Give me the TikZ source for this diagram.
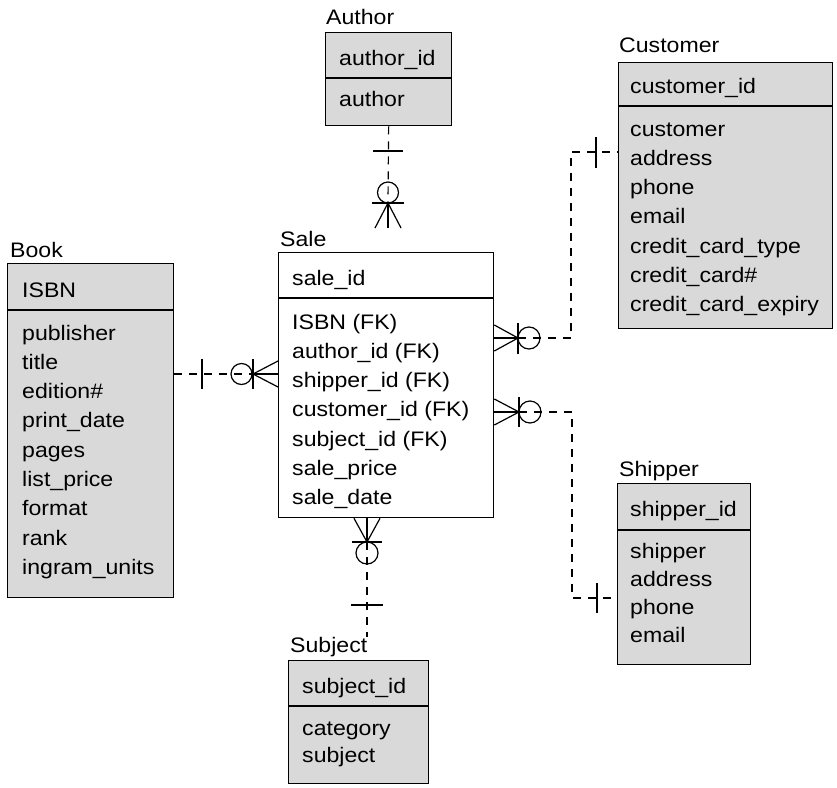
\documentclass[tikz,border=0pt]{standalone}
\usepackage{fontspec}
\setmainfont{Liberation Sans}[FakeStretch=1.1]
\definecolor{boxgray}{RGB}{217,217,217}
\tikzset{
  entity/.style={draw, line width=1.3pt, fill=boxgray, anchor=north west, inner sep=0pt},
  salebox/.style={entity, fill=white},
  divline/.style={line width=1.3pt},
  txt/.style={anchor=base west, inner sep=0pt, font=\fontsize{21}{25}\selectfont},
  dsh/.style={line width=1.2pt, dash pattern=on 8pt off 7pt},
  sym/.style={line width=1.2pt},
}
\begin{document}
\begin{tikzpicture}[x=1pt,y=-1pt]
\useasboundingbox (0,0) rectangle (837,787);

% ---------- entity boxes ----------
\node[entity, minimum width=126pt, minimum height=93pt] (author) at (325,32) {};
\draw[divline] (author.west |- 0,78) -- (author.east |- 0,78);
\node[entity, minimum width=214pt, minimum height=266pt] (customer) at (618,62) {};
\draw[divline] (customer.west |- 0,106) -- (customer.east |- 0,106);
\node[entity, minimum width=166pt, minimum height=334pt] (book) at (7,263) {};
\draw[divline] (book.west |- 0,310) -- (book.east |- 0,310);
\node[salebox, minimum width=215pt, minimum height=265pt] (sale) at (278,252) {};
\draw[divline] (sale.west |- 0,298) -- (sale.east |- 0,298);
\node[entity, minimum width=133pt, minimum height=181pt] (shipper) at (617,483) {};
\draw[divline] (shipper.west |- 0,530) -- (shipper.east |- 0,530);
\node[entity, minimum width=140pt, minimum height=123pt] (subject) at (288,660) {};
\draw[divline] (subject.west |- 0,706) -- (subject.east |- 0,706);

% ---------- titles ----------
\node[txt] (lauthor) at (326,24) {Author};
\node[txt] (lcustomer) at (619,52) {Customer};
\node[txt] (lbook) at (10,257) {Book};
\node[txt] (lsale) at (280,246) {Sale};
\node[txt] (lshipper) at (619,476) {Shipper};
\node[txt] (lsubject) at (290,652) {Subject};

% ---------- keys ----------
\node[txt] (kauthor) at (339,65) {author\_id};
\node[txt] (kcustomer) at (630,93) {customer\_id};
\node[txt] (kbook) at (22,297) {ISBN};
\node[txt] (ksale) at (292,285) {sale\_id};
\node[txt] (kshipper) at (630,516) {shipper\_id};
\node[txt] (ksubject) at (302,693) {subject\_id};

% ---------- attributes ----------
\node[txt] (aauthor1) at (339,106) {author};
\foreach \t [count=\i] in {customer, address, phone, email, credit\_card\_type, credit\_card\#, credit\_card\_expiry}
  \node[txt] (acust\i) at (630,{136+29.3*(\i-1)}) {\t};
\foreach \t [count=\i] in {publisher, title, edition\#, print\_date, pages, list\_price, format, rank, ingram\_units}
  \node[txt] (abook\i) at (22,{340+29.3*(\i-1)}) {\t};
\foreach \t [count=\i] in {ISBN (FK), author\_id (FK), shipper\_id (FK), customer\_id (FK), subject\_id (FK), sale\_price, sale\_date}
  \node[txt] (asale\i) at (292,{329+29.3*(\i-1)}) {\t};
\foreach \t [count=\i] in {shipper, address, phone, email}
  \node[txt] (aship\i) at (630,{558+28.3*(\i-1)}) {\t};
\foreach \t [count=\i] in {category, subject}
  \node[txt] (asubj\i) at (302,{735+27*(\i-1)}) {\t};

% ---------- Author -- Sale ----------
\coordinate (aroot) at (388,203);
\draw[dsh] (author.south) -- (aroot);
\draw[sym] (373,151) -- (403,151);
\draw[sym] (388,192.5) circle (10.5);
\draw[sym] (372,203) -- (404,203);
\draw[sym] (375,228) -- (aroot) -- (401,228);
\draw[sym] (aroot) -- (388,228);

% ---------- Book -- Sale ----------
\coordinate (broot) at (253,374);
\draw[dsh] (book.east |- 0,374) -- (broot);
\draw[sym] (202,359) -- (202,389);
\draw[sym] (241.5,374) circle (10.5);
\draw[sym] (253,359) -- (253,389);
\draw[sym] (sale.west |- 0,361) -- (broot) -- (sale.west |- 0,387);
\draw[sym] (broot) -- (sale.west |- 0,374);

% ---------- Customer -- Sale ----------
\coordinate (croot) at (518,338);
\draw[dsh] (croot) -- (571,338) -- (571,152) -- (customer.west |- 0,152);
\draw[sym] (596,137) -- (596,168);
\draw[sym] (529,338) circle (11);
\draw[sym] (518,323) -- (518,354);
\draw[sym] (sale.east |- 0,325) -- (croot) -- (sale.east |- 0,351);
\draw[sym] (croot) -- (sale.east |- 0,338);

% ---------- Shipper -- Sale ----------
\coordinate (sroot) at (519,412);
\draw[dsh] (sroot) -- (572,412) -- (572,598) -- (shipper.west |- 0,598);
\draw[sym] (597,583) -- (597,613);
\draw[sym] (530,412) circle (11);
\draw[sym] (519,397) -- (519,427);
\draw[sym] (sale.east |- 0,399) -- (sroot) -- (sale.east |- 0,425);
\draw[sym] (sroot) -- (sale.east |- 0,412);

% ---------- Subject -- Sale ----------
\coordinate (uroot) at (367,542);
\coordinate (uend) at (367,637);
\draw[dsh] (uroot) -- (uend);
\draw[sym] (352,542) -- (382,542);
\draw[sym] (367,553) circle (11);
\draw[sym] (351,605) -- (383,605);
\draw[sym] (354,0 |- sale.south) -- (uroot) -- (380,0 |- sale.south);
\draw[sym] (uroot) -- (367,0 |- sale.south);
\end{tikzpicture}
\end{document}
